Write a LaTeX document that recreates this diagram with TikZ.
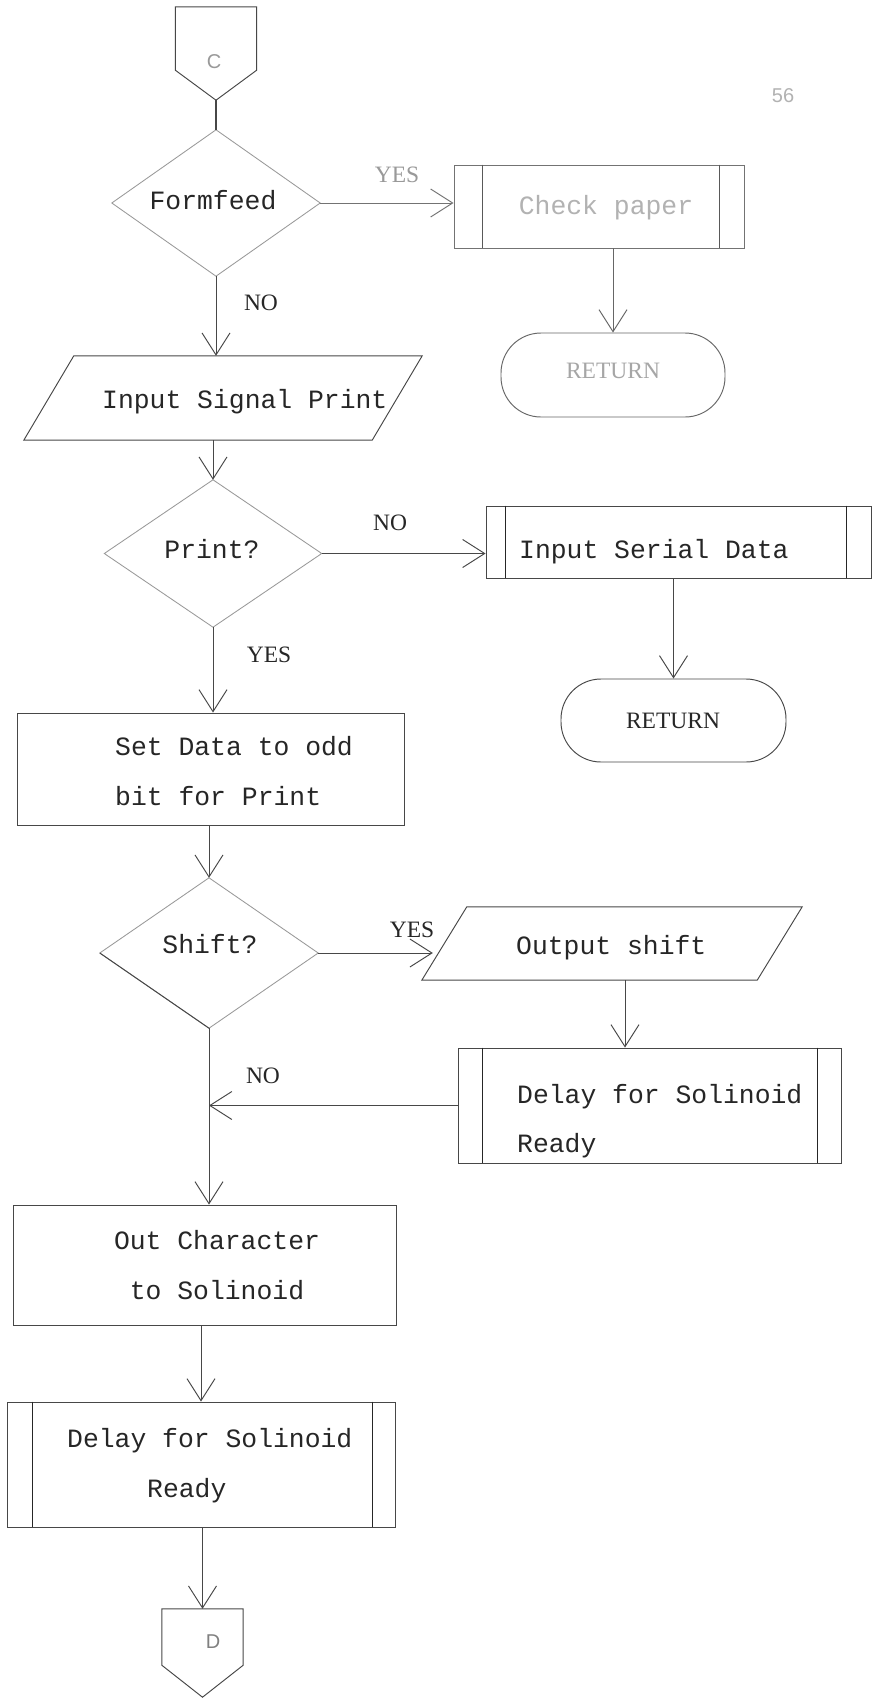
\documentclass[tikz,border=0pt]{standalone}
\usepackage{fontspec}
\setmainfont{Liberation Serif}
\newfontfamily\typew{Liberation Mono}
\newfontfamily\labelfont{Liberation Serif}
\newfontfamily\markfont{Liberation Sans}
\usetikzlibrary{arrows.meta}

\begin{document}
\begin{tikzpicture}[x=1pt,y=-1pt,
  ink/.style={draw=black!72,line width=0.95pt},
  faint/.style={draw=black!40,line width=0.85pt},
  frame/.style={shape=rectangle,draw=none,inner sep=0pt},
  procbox/.style={shape=rectangle,ink,inner sep=0pt},
  terminal/.style={shape=rectangle,ink,rounded corners=40pt,inner sep=0pt},
  txt/.style={inner sep=0pt,font=\typew\fontsize{26.4}{30}\selectfont,text=black!85},
  lbl/.style={inner sep=0pt,font=\labelfont\fontsize{23.5}{27}\selectfont,text=black!85,anchor=base},
  conlabel/.style={inner sep=0pt,font=\markfont\fontsize{20}{24}\selectfont,text=black!40,anchor=base},
  flow/.style={ink,-{Straight Barb[length=22pt,width=28pt]}},
  bar/.style={draw=black!85,line width=1.5pt},
]
\fill[white] (0,0) rectangle (876,1702);
\useasboundingbox (0,0) rectangle (876,1702);

% page number
\node[conlabel,text=black!30] (pageno) at (783,102) {56};

% ---- entry connector C
\node[frame,minimum width=81pt,minimum height=93pt] (conC) at (216,53.5) {};
\draw[ink] (conC.north west) -- (conC.north east) -- ([yshift=30pt]conC.south east)
  -- (conC.south) -- ([yshift=30pt]conC.south west) -- cycle;
\node[conlabel] (tC) at (214,68) {C};

% ---- Formfeed decision
\node[frame,minimum width=208pt,minimum height=146pt] (ff) at (216,203) {};
\draw[faint] (ff.north) -- (ff.east) -- (ff.south) -- (ff.west) -- cycle;
\node[txt,anchor=base] (tff) at (213,209) {Formfeed};
\draw[ink,line width=1.6pt] (conC.south) -- (ff.north);

% ---- Check paper subroutine
\node[procbox,draw=black!55,minimum width=290pt,minimum height=83pt] (cp) at (599,206.5) {};
\draw[draw=black!65,line width=1.2pt] ([xshift=29pt]cp.north west) -- ([xshift=29pt]cp.south west);
\draw[draw=black!65,line width=1.2pt] ([xshift=-25pt]cp.north east) -- ([xshift=-25pt]cp.south east);
\node[txt,anchor=base,text=black!30] (tcp) at (606,214) {Check paper};

% ---- RETURN (after Check paper)
\node[terminal,draw=black!60,minimum width=224pt,minimum height=84pt] (ret1) at (613,375) {};
\node[lbl,text=black!35] (tret1) at (613,378) {RETURN};

% ---- Input Signal Print
\node[frame,minimum width=398pt,minimum height=84pt] (insig) at (223,398) {};
\draw[ink] ([xshift=50pt]insig.north west) -- (insig.north east)
  -- ([xshift=-50pt]insig.south east) -- (insig.south west) -- cycle;
\node[txt,anchor=base west] (tinsig) at (102,408) {Input Signal Print};

% ---- Print? decision
\node[frame,minimum width=217pt,minimum height=147pt] (pr) at (213,553.5) {};
\draw[faint] (pr.north) -- (pr.east) -- (pr.south) -- (pr.west) -- cycle;
\node[txt,anchor=base] (tpr) at (212,558) {Print?};

% ---- Input Serial Data subroutine
\node[procbox,minimum width=385pt,minimum height=72pt] (isd) at (678.5,542) {};
\draw[bar] ([xshift=20pt]isd.north west) -- ([xshift=20pt]isd.south west);
\draw[bar] ([xshift=-25pt]isd.north east) -- ([xshift=-25pt]isd.south east);
\node[txt,anchor=base west] (tisd) at (519,558) {Input Serial Data};

% ---- RETURN (after Input Serial Data)
\node[terminal,minimum width=225pt,minimum height=83pt] (ret2) at (673.5,720.5) {};
\node[lbl] (tret2) at (673,728) {RETURN};

% ---- Set Data box
\node[procbox,minimum width=387pt,minimum height=112pt] (sd) at (210.5,769) {};
\node[txt,anchor=base west] (tsd1) at (115,755) {Set Data to odd};
\node[txt,anchor=base west] (tsd2) at (115,805) {bit for Print};

% ---- Shift? decision
\node[frame,minimum width=218pt,minimum height=150pt] (sh) at (209,953) {};
\draw[faint] (sh.north) -- (sh.east) -- (sh.south) -- (sh.west) -- cycle;
\draw[ink] (sh.west) -- (sh.south);
\node[txt,anchor=base] (tsh) at (210,953) {Shift?};

% ---- Output shift
\node[frame,minimum width=380pt,minimum height=73pt] (os) at (612,943.5) {};
\draw[ink] ([xshift=45pt]os.north west) -- (os.north east)
  -- ([xshift=-45pt]os.south east) -- (os.south west) -- cycle;
\node[txt,anchor=base west] (tos) at (516,954) {Output shift};

% ---- Delay (upper)
\node[procbox,minimum width=383pt,minimum height=115pt] (d1) at (649.5,1105.5) {};
\draw[bar] ([xshift=25pt]d1.north west) -- ([xshift=25pt]d1.south west);
\draw[bar] ([xshift=-24pt]d1.north east) -- ([xshift=-24pt]d1.south east);
\node[txt,anchor=base west] (td1a) at (517,1103) {Delay for Solinoid};
\node[txt,anchor=base west] (td1b) at (517,1152) {Ready};

% ---- Out Character box
\node[procbox,minimum width=383pt,minimum height=120pt] (oc) at (204.5,1265) {};
\node[txt,anchor=base] (toc1) at (217,1249) {Out Character};
\node[txt,anchor=base] (toc2) at (217,1299) {to Solinoid};

% ---- Delay (lower)
\node[procbox,minimum width=388pt,minimum height=125pt] (d2) at (201,1464.5) {};
\draw[bar] ([xshift=26pt]d2.north west) -- ([xshift=26pt]d2.south west);
\draw[bar] ([xshift=-23pt]d2.north east) -- ([xshift=-23pt]d2.south east);
\node[txt,anchor=base west] (td2a) at (67,1447) {Delay for Solinoid};
\node[txt,anchor=base west] (td2b) at (147,1497) {Ready};

% ---- exit connector D
\node[frame,minimum width=81pt,minimum height=88pt] (conD) at (202.5,1653) {};
\draw[ink] (conD.north west) -- (conD.north east) -- ([yshift=32pt]conD.south east)
  -- (conD.south) -- ([yshift=32pt]conD.south west) -- cycle;
\node[conlabel,text=black!50] (tD) at (213,1648) {D};

% ---- connectors
\draw[flow] (ff.south) -- (ff.south |- insig.north);
\node[lbl] (lno1) at (261,310) {NO};
\draw[flow,draw=black!55] (ff.east) -- (ff.east -| cp.west);
\node[lbl,text=black!40] (lyes1) at (397,182) {YES};
\draw[flow,draw=black!60] (ret1.north |- cp.south) -- (ret1.north);

\draw[flow] (pr.north |- insig.south) -- (pr.north);
\draw[flow] (pr.east) -- (pr.east -| isd.west);
\node[lbl] (lno2) at (390,530) {NO};
\draw[flow] (ret2.north |- isd.south) -- (ret2.north);
\draw[flow] (pr.south) -- (pr.south |- sd.north);
\node[lbl] (lyes2) at (269,662) {YES};

\draw[flow] (sh.north |- sd.south) -- (sh.north);
\draw[flow,shorten >=-11pt] (sh.east) -- (sh.east -| os.west);
\node[lbl] (lyes3) at (412,937) {YES};
\draw[flow] ([xshift=13pt]os.south) -- ([xshift=13pt]os.south |- d1.north);
\draw[flow] (d1.west) -- (d1.west -| sh.south);
\node[lbl] (lno3) at (263,1083) {NO};
\draw[flow] (sh.south) -- (sh.south |- oc.north);

\draw[flow] (d2.north |- oc.south) -- (d2.north);
\draw[flow] (conD.north |- d2.south) -- (conD.north);
\end{tikzpicture}
\end{document}
